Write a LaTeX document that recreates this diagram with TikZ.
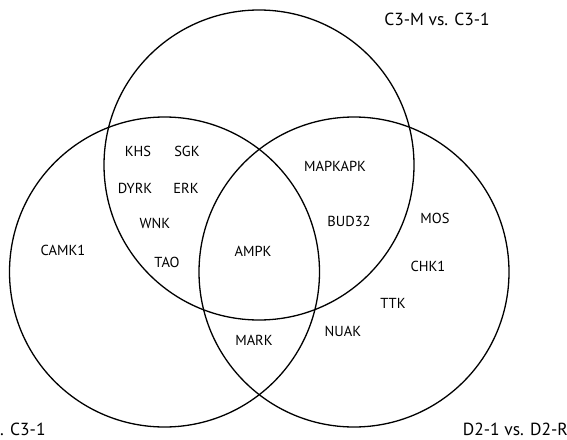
\documentclass[tikz,border=0pt]{standalone}
\usepackage{fontspec}
\setmainfont{PT Sans}
\begin{document}
\begin{tikzpicture}[x=1pt,y=-1pt,
  setcircle/.style={draw=black, line width=1.3pt, circle, minimum size=310pt, inner sep=0pt},
  gene/.style={inner sep=0pt, font=\fontsize{14.5}{16}\selectfont},
  setlabel/.style={inner sep=0pt, font=\fontsize{17.5}{20}\selectfont}]
\useasboundingbox (0,0) rectangle (567,439);
\node[setcircle] (top) at (259,165) {};
\node[setcircle] (left) at (164.5,272) {};
\node[setcircle] (right) at (354,272) {};
% labels
\node[setlabel] (ltop) at (437,19.5) {C3-M vs. C3-1};
\node[setlabel, anchor=west] (lleft) at (0,429.5) {. C3-1};
\node[setlabel, anchor=east] (lright) at (568,429.5) {D2-1 vs. D2-R};
% genes
\node[gene] (khs) at (138,151) {KHS};
\node[gene] (sgk) at (187,151) {SGK};
\node[gene] (dyrk) at (135,188) {DYRK};
\node[gene] (erk) at (186,188) {ERK};
\node[gene] (wnk) at (155,223) {WNK};
\node[gene] (tao) at (167,262) {TAO};
\node[gene] (camk) at (63,250) {CAMK1};
\node[gene] (ampk) at (253,251) {AMPK};
\node[gene] (mapkapk) at (335,166) {MAPKAPK};
\node[gene] (bud) at (349,221) {BUD32};
\node[gene] (mark) at (254,340) {MARK};
\node[gene] (nuak) at (343,331) {NUAK};
\node[gene] (ttk) at (393,303) {TTK};
\node[gene] (mos) at (435,218) {MOS};
\node[gene] (chk) at (428,266) {CHK1};
\end{tikzpicture}
\end{document}
